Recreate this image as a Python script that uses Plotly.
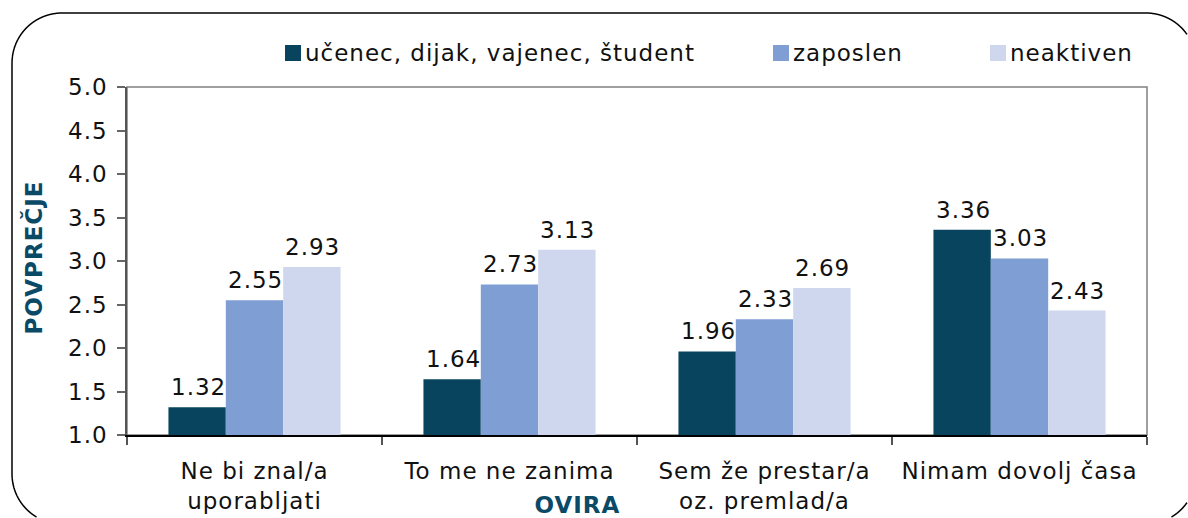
import numpy as np
import plotly.graph_objects as go

categories = ["Ne bi znal/a<br>uporabljati", "To me ne zanima", "Sem že prestar/a<br>oz. premlad/a", "Nimam dovolj časa"]
series_names = ["učenec, dijak, vajenec, študent", "zaposlen", "neaktiven"]
ucenec = [1.32, 1.64, 1.96, 3.36]
zaposlen = [2.55, 2.73, 2.33, 3.03]
neaktiven = [2.93, 3.13, 2.69, 2.43]
series_values = [ucenec, zaposlen, neaktiven]
colors = ["#09445E", "#7F9FD4", "#CFD7EF"]
y_ticks = [1.0, 1.5, 2.0, 2.5, 3.0, 3.5, 4.0, 4.5, 5.0]

W, H = 1188, 518
L, R, T, B = 127, 41, 87, 83
PW, PH = W - L - R, H - T - B
BARGAP = 0.325

def px(x, y):
    return (x - L) / PW, (H - B - y) / PH

def pt(x, y):
    a, b = px(x, y)
    return f"{a:.5f},{b:.5f}"

FONT = "DejaVu Sans"
FS = 23
fig = go.Figure()
for name, vals, col in zip(series_names, series_values, colors):
    fig.add_trace(go.Bar(
        x=categories, y=vals, name=name, marker=dict(color=col, line=dict(width=0)),
        showlegend=False,
    ))

shapes = []
annotations = []

# value labels above bars
n_series = len(series_values)
bar_px = PW / len(categories) * (1 - BARGAP) / n_series
for j, vals in enumerate(series_values):
    for cat, v in zip(categories, vals):
        annotations.append(dict(xref="x", yref="y", x=cat, y=v, xanchor="center", yanchor="bottom",
                                xshift=(j - (n_series - 1) / 2) * bar_px + 1, yshift=5,
                                text=f"{v:.2f}", showarrow=False,
                                font=dict(family=FONT, size=FS, color="#111")))

shapes.append(dict(type="rect", xref="paper", yref="paper", x0=0, x1=1, y0=0, y1=1,
                   line=dict(color="#808080", width=1.5), layer="below"))

# rounded outer frame, clipped to the canvas
fx0, fy0, fx1, fy1, rad = 12, 13, 1196, 524, 50
def arc(cx, cy, a0, a1, n=24):
    t = np.linspace(np.radians(a0), np.radians(a1), n)
    return list(zip(cx + rad * np.cos(t), cy + rad * np.sin(t)))
pts = []
pts += arc(fx0 + rad, fy0 + rad, 180, 270)
pts += arc(fx1 - rad, fy0 + rad, 270, 360)
pts += arc(fx1 - rad, fy1 - rad, 0, 90)
pts += arc(fx0 + rad, fy1 - rad, 90, 180)
pts.append(pts[0])
dense = []
for (xa, ya_), (xb, yb_) in zip(pts[:-1], pts[1:]):
    for s in np.linspace(0, 1, 30, endpoint=False):
        dense.append((xa + (xb - xa) * s, ya_ + (yb_ - ya_) * s))
dense.append(pts[0])
runs, cur = [], []
for (x, y) in dense:
    if 0 <= x <= W - 1 and 0 <= y <= H - 1:
        cur.append((x, y))
    else:
        if len(cur) > 1:
            runs.append(cur)
        cur = []
if len(cur) > 1:
    runs.append(cur)
for run in runs:
    p = "M" + " L".join(pt(x, y) for x, y in run)
    shapes.append(dict(type="path", xref="paper", yref="paper", path=p,
                       line=dict(color="#000", width=1.5)))

leg_x = [285, 773, 990]
for lx, name, col in zip(leg_x, series_names, colors):
    a0, b0 = px(lx, 61)
    a1, b1 = px(lx + 16, 45)
    shapes.append(dict(type="rect", xref="paper", yref="paper", x0=a0, x1=a1, y0=b0, y1=b1,
                       fillcolor=col, line=dict(width=0)))
    ta, tb = px(lx + 18, 53)
    annotations.append(dict(xref="paper", yref="paper", x=ta, y=tb, xanchor="left", yanchor="middle",
                            align="left", text=name, showarrow=False,
                            font=dict(family=FONT, size=FS, color="#111")))

title_col = "#0B4A66"
ya, yb = px(33, 258)
annotations.append(dict(xref="paper", yref="paper", x=ya, y=yb, xanchor="center", yanchor="middle",
                        textangle=-90, text="<b>POVPREČJE</b>",
                        showarrow=False, font=dict(family=FONT, size=FS, color=title_col)))
oa, ob = px(577, 505)
annotations.append(dict(xref="paper", yref="paper", x=oa, y=ob, xanchor="center", yanchor="middle",
                        text="<b>OVIRA</b>",
                        showarrow=False, font=dict(family=FONT, size=FS, color=title_col)))

fig.update_layout(
    width=W, height=H, autosize=False,
    margin=dict(l=L, r=R, t=T, b=B, pad=0),
    paper_bgcolor="white", plot_bgcolor="white",
    barmode="group", bargap=BARGAP, bargroupgap=0,
    shapes=shapes, annotations=annotations, showlegend=False,
    font=dict(family=FONT, size=FS, color="#111"),
)
fig.update_yaxes(range=[1, 5], tickvals=y_ticks, ticktext=[f"{v:.1f}" for v in y_ticks],
                 automargin=False,
                 showgrid=False, zeroline=False, showline=True, linecolor="#555", linewidth=1.5,
                 ticks="outside", ticklen=8, tickcolor="#666", tickwidth=1.5,
                 ticklabelstandoff=5, tickfont=dict(family=FONT, size=FS, color="#111"))
fig.update_xaxes(showgrid=False, showline=True, linecolor="#000", linewidth=1.5, automargin=False,
                 ticks="outside", tickson="boundaries", ticklen=8, tickcolor="#555", tickwidth=1.5,
                 tickfont=dict(family=FONT, size=FS, color="#111"), ticklabelstandoff=15)

post = ("var s=document.createElement('style');"
        "s.innerHTML='html,body{margin:0;padding:0;overflow:hidden} .main-svg text{letter-spacing:1px}';"
        "document.head.appendChild(s);")
fig.write_html("out.html", post_script=post, config={"displayModeBar": False})
